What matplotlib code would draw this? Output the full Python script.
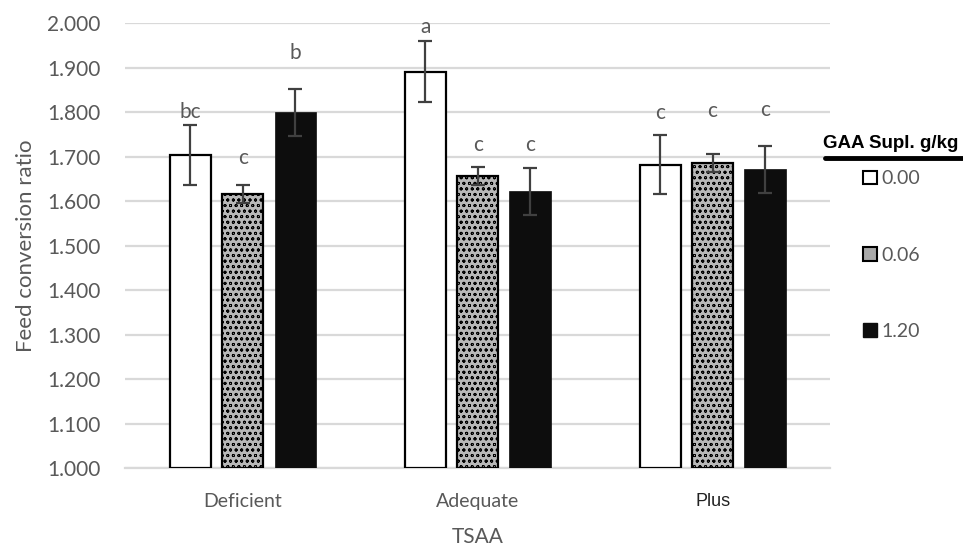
import numpy as np
import matplotlib
matplotlib.use("Agg")
import matplotlib.pyplot as plt
from matplotlib.patches import Patch
from matplotlib.lines import Line2D

# datos
categorias = ["Deficient", "Adequate", "Plus"]
dosis = ["0.00", "0.06", "1.20"]
fcr_000 = [1.703, 1.891, 1.682]
fcr_006 = [1.616, 1.656, 1.685]
fcr_120 = [1.800, 1.622, 1.671]
err_000 = [0.067, 0.068, 0.067]
err_006 = [0.020, 0.020, 0.020]
err_120 = [0.053, 0.053, 0.053]
letras_000 = ["bc", "a", "c"]
letras_006 = ["c", "c", "c"]
letras_120 = ["b", "c", "c"]
pos_letra_000 = [1.801, 1.991, 1.798]
pos_letra_006 = [1.696, 1.726, 1.803]
pos_letra_120 = [1.933, 1.726, 1.805]

gris_txt = "#595959"
plt.rcParams["font.family"] = ["Lato", "DejaVu Sans"]
plt.rcParams["hatch.linewidth"] = 0.6

fig = plt.figure(figsize=(9.63, 5.53), dpi=100)
ax = fig.add_axes([0.130, 0.1537, 0.732, 0.8045])

x = np.arange(len(categorias))
ancho = 0.175
sep = 0.223

series = [
    (fcr_000, err_000, letras_000, pos_letra_000, dict(color="white", edgecolor="black", linewidth=1.6)),
    (fcr_006, err_006, letras_006, pos_letra_006, dict(color="#b8b8b8", edgecolor="black", linewidth=1.6, hatch="ooo")),
    (fcr_120, err_120, letras_120, pos_letra_120, dict(color="#0d0d0d", edgecolor="#0d0d0d", linewidth=0.5)),
]

for i, (vals, errs, letras, pos, estilo) in enumerate(series):
    xs = x + (i - 1) * sep
    ax.bar(xs, np.array(vals) - 1.0, bottom=1.0, width=ancho, zorder=3, **estilo)
    ax.errorbar(xs, vals, yerr=errs, fmt="none", ecolor="#404040",
                elinewidth=1.6, capsize=5, capthick=1.6, zorder=4)
    for xi, l, p in zip(xs, letras, pos):
        ax.text(xi, p, l, ha="center", va="center", fontsize=15, color=gris_txt)

ax.set_xlim(-0.5, 2.5)
ax.set_ylim(1.0, 2.0)
ax.set_yticks(np.arange(1.0, 2.001, 0.1))
ax.set_yticklabels([f"{v:.3f}" for v in np.arange(1.0, 2.001, 0.1)])
ax.set_xticks(x)
ax.set_xticklabels(categorias)
ax.tick_params(axis="both", length=0, labelsize=15, colors=gris_txt)
ax.tick_params(axis="x", pad=18, labelsize=14)
ax.tick_params(axis="y", pad=18)
ax.get_xticklabels()[2].set_fontfamily(["Liberation Sans", "DejaVu Sans"])
ax.get_xticklabels()[2].set_color("#222222")
ax.get_xticklabels()[2].set_fontsize(13)

ax.grid(axis="y", color="#d9d9d9", linewidth=1.6, zorder=0)
ax.set_axisbelow(True)
for s in ["top", "right", "left"]:
    ax.spines[s].set_visible(False)
ax.spines["bottom"].set_color("#d9d9d9")
ax.spines["bottom"].set_linewidth(1.6)

ax.set_ylabel("Feed conversion ratio", fontsize=16, color=gris_txt, labelpad=8)
ax.set_xlabel("TSAA", fontsize=15, color=gris_txt, labelpad=12)

# leyenda
fig.text(0.855, 0.741, "GAA Supl. g/kg", ha="left", va="center", fontsize=13.5,
         fontweight="bold", family=["Liberation Sans", "DejaVu Sans"], color="black")
fig.add_artist(Line2D([0.857, 1.0], [0.714, 0.714], color="black", linewidth=3.5,
                      solid_capstyle="round"))
handles = [
    Patch(facecolor="white", edgecolor="black", linewidth=1.5, label=dosis[0]),
    Patch(facecolor="#a8a8a8", edgecolor="black", linewidth=1.5, label=dosis[1]),
    Patch(facecolor="#0d0d0d", edgecolor="#0d0d0d", label=dosis[2]),
]
leg = fig.legend(handles=handles, loc="upper left", bbox_to_anchor=(0.888, 0.706),
                 frameon=False, fontsize=14, handlelength=0.7, handleheight=0.7,
                 handletextpad=0.25, labelspacing=3.05, borderaxespad=0)
for t in leg.get_texts():
    t.set_color(gris_txt)

fig.savefig("out.png", dpi=100)
